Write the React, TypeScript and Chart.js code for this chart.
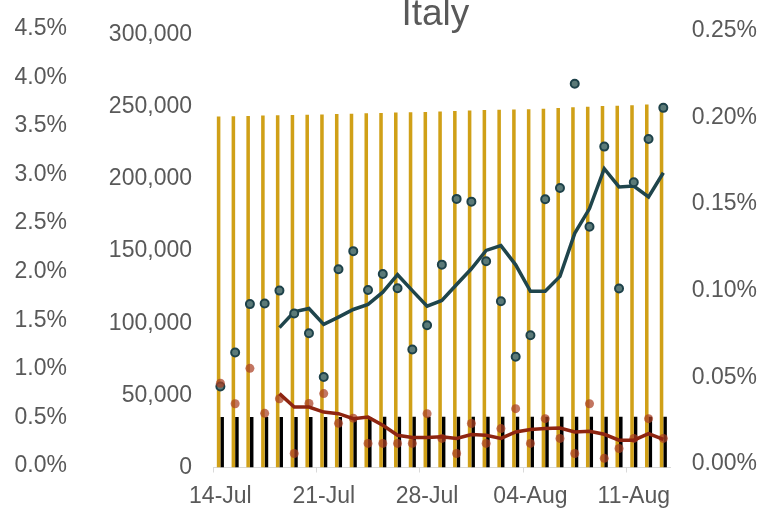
import React, { useEffect, useRef } from 'react';
import { Chart, registerables } from 'chart.js';

Chart.register(...registerables);

const TITLE = 'Italy';

const dates = [
  '14-Jul', '15-Jul', '16-Jul', '17-Jul', '18-Jul', '19-Jul', '20-Jul',
  '21-Jul', '22-Jul', '23-Jul', '24-Jul', '25-Jul', '26-Jul', '27-Jul',
  '28-Jul', '29-Jul', '30-Jul', '31-Jul', '01-Aug', '02-Aug', '03-Aug',
  '04-Aug', '05-Aug', '06-Aug', '07-Aug', '08-Aug', '09-Aug', '10-Aug',
  '11-Aug', '12-Aug', '13-Aug',
];

const totalCases = [
  243344, 243506, 243736, 243967, 244216, 244434, 244624,
  244752, 245032, 245338, 245590, 245864, 246118, 246286,
  246488, 246776, 247158, 247537, 247832, 248070, 248229,
  248419, 248803, 249204, 249756, 250103, 250566, 250825,
  251237, 251713, 252235,
];

const totalDeaths = [
  34984, 34997, 35017, 35028, 35042, 35045, 35058,
  35073, 35082, 35092, 35097, 35102, 35107, 35112,
  35123, 35129, 35132, 35141, 35146, 35154, 35166,
  35171, 35181, 35187, 35190, 35203, 35205, 35209,
  35215, 35225, 35231,
];

// daily new cases as % of total cases
const caseGrowthPct = [
  0.0468, 0.0664, 0.0944, 0.0948, 0.1022, 0.0890, 0.0776,
  0.0523, 0.1145, 0.1250, 0.1026, 0.1118, 0.1036, 0.0682,
  0.0822, 0.1172, 0.1552, 0.1536, 0.1192, 0.0961, 0.0640,
  0.0764, 0.1550, 0.1615, 0.2217, 0.1391, 0.1854, 0.1034,
  0.1648, 0.1898, 0.2078,
];

const caseGrowthAvgPct = [
  null, null, null, null, 0.0808, 0.0900, 0.0919,
  0.0827, 0.0869, 0.0913, 0.0942, 0.1013, 0.1114, 0.1022,
  0.0932, 0.0965, 0.1057, 0.1148, 0.1254, 0.1282, 0.1171,
  0.1018, 0.1018, 0.1104, 0.1353, 0.1496, 0.1726, 0.1621,
  0.1626, 0.1563, 0.1703,
];

// daily new deaths as % of total deaths
const deathGrowthPct = [
  0.0487, 0.0368, 0.0573, 0.0313, 0.0397, 0.0081, 0.0370,
  0.0427, 0.0255, 0.0285, 0.0139, 0.0139, 0.0139, 0.0139,
  0.0311, 0.0168, 0.0081, 0.0254, 0.0139, 0.0225, 0.0340,
  0.0139, 0.0282, 0.0168, 0.0081, 0.0368, 0.0053, 0.0110,
  0.0168, 0.0282, 0.0168,
];

const deathGrowthAvgPct = [
  null, null, null, null, 0.0427, 0.0349, 0.0349,
  0.0320, 0.0311, 0.0282, 0.0291, 0.0244, 0.0186, 0.0173,
  0.0173, 0.0177, 0.0168, 0.0190, 0.0186, 0.0168, 0.0205,
  0.0219, 0.0225, 0.0228, 0.0205, 0.0209, 0.0192, 0.0158,
  0.0158, 0.0196, 0.0162,
];

const leftPctTicks = [0, 0.5, 1, 1.5, 2, 2.5, 3, 3.5, 4, 4.5];
const countTicks = [0, 50000, 100000, 150000, 200000, 250000, 300000];
const rightPctTicks = [0, 0.05, 0.1, 0.15, 0.2, 0.25];

const LABEL_COLOR = '#595959';
const FONT = '"Liberation Sans", Arial, sans-serif';

const withCommas = (v: number) =>
  String(Math.round(v)).replace(/\B(?=(\d{3})+(?!\d))/g, ',');

const setTicks = (values: number[]) => (scale: any) => {
  scale.ticks = values.map((value) => ({ value }));
};

const titlePlugin = {
  id: 'topTitle',
  afterDraw(chart: any) {
    const { ctx, chartArea } = chart;
    ctx.save();
    ctx.font = `37px ${FONT}`;
    ctx.fillStyle = LABEL_COLOR;
    ctx.textAlign = 'center';
    ctx.textBaseline = 'alphabetic';
    ctx.fillText(TITLE, (chartArea.left + chartArea.right) / 2 - 6.5, 25);
    ctx.restore();
  },
};

export default function App() {
  const ref = useRef<HTMLCanvasElement | null>(null);

  useEffect(() => {
    if (!ref.current) return;
    Chart.defaults.font.family = FONT;
    Chart.defaults.font.size = 23;
    Chart.defaults.color = LABEL_COLOR;

    const chart = new Chart(ref.current, {
      type: 'bar',
      data: {
        labels: dates,
        datasets: [
          {
            type: 'bar',
            label: 'Total cases',
            data: totalCases,
            yAxisID: 'yCount',
            backgroundColor: '#D0A017',
            categoryPercentage: 0.48,
            barPercentage: 1,
            order: 10,
          },
          {
            type: 'bar',
            label: 'Total deaths',
            data: totalDeaths,
            yAxisID: 'yCount',
            backgroundColor: '#000000',
            categoryPercentage: 0.48,
            barPercentage: 1,
            order: 10,
          },
          {
            type: 'line',
            label: 'New cases %',
            data: caseGrowthPct,
            yAxisID: 'yRateData',
            showLine: false,
            pointRadius: 4,
            pointBorderWidth: 2,
            pointBackgroundColor: '#5B7A78',
            pointBorderColor: '#1E424A',
            order: 3,
          },
          {
            type: 'line',
            label: 'New cases % avg',
            data: caseGrowthAvgPct,
            yAxisID: 'yRateData',
            borderColor: '#1F454C',
            borderWidth: 3.5,
            pointRadius: 0,
            tension: 0,
            order: 4,
          },
          {
            type: 'line',
            label: 'New deaths %',
            data: deathGrowthPct,
            yAxisID: 'yRateData',
            showLine: false,
            pointRadius: 4.5,
            pointBorderWidth: 0,
            pointBackgroundColor: 'rgba(170,64,36,0.72)',
            order: 2,
          },
          {
            type: 'line',
            label: 'New deaths % avg',
            data: deathGrowthAvgPct,
            yAxisID: 'yRateData',
            borderColor: '#8E2511',
            borderWidth: 3.5,
            pointRadius: 0,
            tension: 0,
            order: 1,
          },
        ] as any,
      },
      options: {
        responsive: false,
        animation: false,
        layout: { padding: { top: 31.7, left: 0, right: 0, bottom: 0 } },
        plugins: {
          legend: { display: false },
          tooltip: { enabled: false },
          title: { display: false },
        },
        scales: {
          x: {
            type: 'category',
            offset: true,
            grid: {
              display: true,
              offset: true,
              drawOnChartArea: false,
              drawTicks: true,
              tickLength: 5,
              lineWidth: 1,
              color: (ctx: any) => (ctx.index % 7 === 0 ? '#D9D9D9' : 'rgba(0,0,0,0)'),
            },
            border: { display: true, color: '#D9D9D9', width: 1 },
            ticks: {
              autoSkip: false,
              maxRotation: 0,
              minRotation: 0,
              padding: 10.7,
              callback: function (this: any, val: any, idx: number) {
                return idx % 7 === 0 ? this.getLabelForValue(val) : '';
              },
            },
            afterFit: (s: any) => {
              s.height = 42.5;
            },
          },
          yPct: {
            type: 'linear',
            position: 'left',
            weight: 10,
            min: -0.0174,
            max: 4.4397,
            afterBuildTicks: setTicks(leftPctTicks),
            grid: { display: false, drawTicks: false },
            border: { display: false },
            ticks: {
              autoSkip: false,
              padding: 13,
              callback: (v: any) => Number(v).toFixed(1) + '%',
            },
            afterFit: (s: any) => {
              s.width = 80;
            },
          },
          yCount: {
            type: 'linear',
            position: 'left',
            weight: 0,
            min: 0,
            max: 300000,
            afterBuildTicks: setTicks(countTicks),
            grid: { display: false, drawTicks: false },
            border: { display: false },
            ticks: {
              autoSkip: false,
              padding: 21,
              callback: (v: any) => withCommas(Number(v)),
            },
            afterFit: (s: any) => {
              s.width = 133;
            },
          },
          yRate: {
            type: 'linear',
            position: 'right',
            min: -0.002,
            max: 0.2476,
            afterBuildTicks: setTicks(rightPctTicks),
            grid: { display: false, drawTicks: false },
            border: { display: false },
            ticks: {
              autoSkip: false,
              padding: 21,
              callback: (v: any) => Number(v).toFixed(2) + '%',
            },
            afterFit: (s: any) => {
              s.width = 94.3;
            },
          },
          yRateData: {
            type: 'linear',
            display: false,
            position: 'right',
            min: 0,
            max: 0.25,
          },
        },
      } as any,
      plugins: [titlePlugin],
    });

    return () => chart.destroy();
  }, []);

  return (
    <div style={{ position: 'fixed', left: 0, top: 0, width: 765, height: 510, background: '#ffffff' }}>
      <canvas ref={ref} width={765} height={510} style={{ display: 'block' }} />
    </div>
  );
}
